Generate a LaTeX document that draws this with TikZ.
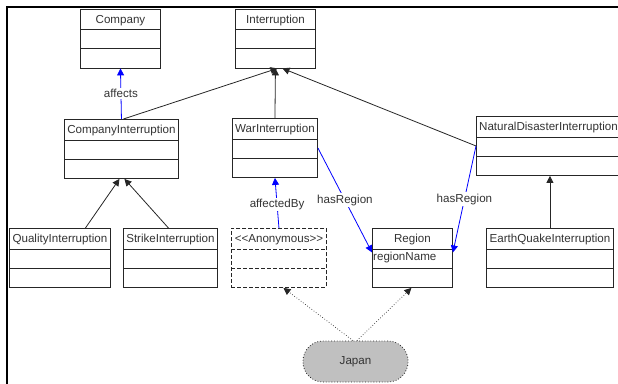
\documentclass[tikz,border=0pt]{standalone}
\usepackage{fontspec}
\setmainfont{Liberation Sans}[Ligatures=TeXOff]
\usetikzlibrary{arrows.meta,calc}

\definecolor{ink}{HTML}{262626}
\definecolor{txt}{HTML}{333333}
\definecolor{assoc}{HTML}{0000FF}
\definecolor{instfill}{HTML}{C0C0C0}

\newcommand{\lbl}{\fontsize{11.6}{13}\selectfont}

\tikzset{
  classbox/.style={draw=ink, line width=0.9pt, inner sep=0pt},
  anonbox/.style={dashed, dash pattern=on 4pt off 2pt},
  classtitle/.style={font=\lbl, text=txt, inner sep=0pt},
  gen/.style={draw=ink, line width=0.8pt, -{Triangle[length=7pt,width=7pt]}},
  assocline/.style={draw=assoc, line width=0.8pt, -{Triangle[length=7pt,width=7pt]}},
  instline/.style={draw=ink, line width=0.7pt, dotted, -{Triangle[length=7pt,width=7pt,fill=ink]}},
  rolelabel/.style={font=\lbl, text=txt, fill=white, inner sep=1.5pt},
  instance/.style={draw=ink, line width=0.8pt, dotted, fill=instfill, rounded corners=20pt,
    minimum width=105pt, minimum height=41pt, font=\lbl, text=txt}
}

% class box: [style] name, left, top, width, title
\newcommand{\umlclass}[6][]{%
  \node[classbox,#1,minimum width=#5pt,minimum height=59pt,anchor=north west] (#2) at (#3,#4) {};
  \node[classtitle,anchor=base] (#2-title) at ([yshift=-14.5pt]#2.north) {#6};
  \draw[draw=ink,line width=0.9pt,#1] ([yshift=-21pt]#2.north west) -- ([yshift=-21pt]#2.north east);
  \draw[draw=ink,line width=0.9pt,#1] ([yshift=-40pt]#2.north west) -- ([yshift=-40pt]#2.north east);
}

\begin{document}
\begin{tikzpicture}[x=1pt,y=-1pt]
\useasboundingbox (0,0) rectangle (618,383);
\clip (0,0) rectangle (618,383);

% page frame (left and top edges)
\draw[line width=2.3pt,black] (7.3,390) -- (7.3,6.7) -- (625,6.7);

% classes
\umlclass{company}{80}{8.5}{80}{Company}
\umlclass{interruption}{235}{8.5}{80}{Interruption}
\umlclass{compint}{64}{119}{114}{CompanyInterruption}
\umlclass{warint}{232}{118}{85}{WarInterruption}
\umlclass{natint}{476}{116}{144}{NaturalDisasterInterruption}
\umlclass{qualint}{9}{228}{101}{QualityInterruption}
\umlclass{strikeint}{123}{228}{94}{StrikeInterruption}
\umlclass[anonbox]{anon}{231}{228}{95}{<<Anonymous>>}
\umlclass{region}{372}{228}{80}{Region}
\umlclass{quakeint}{486}{228}{127}{EarthQuakeInterruption}

\node[classtitle,anchor=base west] (region-attr) at ([xshift=1pt,yshift=-32pt]region.north west) {regionName};

% instance
\node[instance] (japan) at (355.5,361.5) {Japan};

% generalisations
\draw[gen] ([xshift=2pt]compint.north) -- ([xshift=2pt]interruption.south);
\draw[gen] (warint.north) -- (interruption.south);
\draw[gen] (natint.west) -- ([xshift=7pt]interruption.south);
\draw[gen] ([xshift=25.5pt]qualint.north) -- ([xshift=-2pt]compint.south);
\draw[gen] ([xshift=-2pt]strikeint.north) -- ([xshift=3pt]compint.south);
\draw[gen] (quakeint.north) -- (quakeint.north |- natint.south);

% associations
\draw[assocline] (compint.north) -- (company.south)
  node[rolelabel,pos=0.5] (affects-lbl) {affects};
\draw[assocline] (anon.north) -- (warint.south)
  node[rolelabel,pos=0.47] (affectedby-lbl) {affectedBy};
\draw[assocline] (warint.east) -- ([yshift=5.5pt]region.west)
  node[rolelabel,pos=0.5] (hasregion1-lbl) {hasRegion};
\draw[assocline] (natint.west) -- ([yshift=5.5pt]region.east)
  node[rolelabel,pos=0.5] (hasregion2-lbl) {hasRegion};

% instance-of links
\draw[instline] ([xshift=-2.5pt]japan.north) -- ([xshift=4.5pt]anon.south);
\draw[instline] ([xshift=1.5pt]japan.north) -- ([xshift=-1pt]region.south);
\end{tikzpicture}
\end{document}
